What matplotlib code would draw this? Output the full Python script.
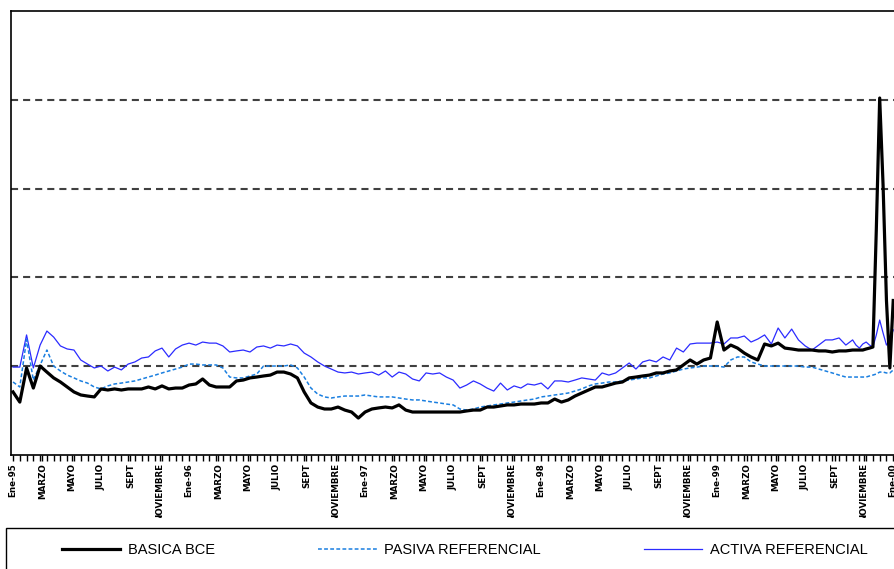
import numpy as np
import matplotlib
matplotlib.use('Agg')
import matplotlib.pyplot as plt
from matplotlib.patches import Rectangle
from matplotlib.transforms import Bbox

# semanas: cada 2 semanas desde Ene-95 y semanal al final (pico de 1999)
semanas = list(range(0, 250, 2)) + list(range(249, 261))

basica = [35.5, 29.8, 49.0, 37.7, 50.1, 46.7, 43.4, 41.1, 38.3, 35.5,
          33.8, 33.2, 32.7, 37.2, 36.6, 37.2, 36.6, 37.2, 37.2, 37.2,
          38.3, 37.2, 38.9, 37.2, 37.7, 37.7, 39.4, 40.0, 42.8, 39.4,
          38.3, 38.3, 38.3, 41.7, 42.2, 43.4, 43.9, 44.5, 45.0, 46.7,
          46.7, 45.6, 43.4, 35.5, 29.3, 27.0, 25.9, 25.9, 27.0, 25.3,
          24.2, 20.8, 24.2, 25.9, 26.5, 27.0, 26.5, 28.2, 25.3, 24.2,
          24.2, 24.2, 24.2, 24.2, 24.2, 24.2, 24.2, 24.8, 25.3, 25.3,
          27.0, 27.0, 27.6, 28.2, 28.2, 28.7, 28.7, 28.7, 29.3, 29.3,
          31.5, 29.8, 31.0, 33.2, 34.9, 36.6, 38.3, 38.3, 39.4, 40.5,
          41.1, 43.4, 43.9, 44.5, 45.0, 46.2, 46.2, 47.3, 47.9, 50.7,
          53.5, 51.2, 53.5, 54.6, 74.9, 59.1, 61.9, 60.2, 57.4, 55.2,
          53.5, 62.5, 61.4, 63.0, 60.2, 59.7, 59.1, 59.1, 59.1, 58.6,
          58.6, 58.0, 58.6, 58.6, 59.1,
          59.1, 59.1, 59.1, 59.7, 60.2, 60.8, 126.7, 201.0, 152.0, 87.0,
          49.0, 87.0]

pasiva = [41.1, 38.3, 65.0, 42.2, 50.7, 59.1, 50.1, 47.3, 45.0, 43.4,
          41.7, 40.5, 38.3, 37.2, 38.9, 40.0, 40.5, 41.1, 41.7, 42.8,
          43.9, 45.0, 46.2, 47.3, 48.4, 49.5, 51.2, 51.2, 50.7, 50.7,
          50.7, 49.0, 43.9, 43.4, 43.4, 44.5, 45.6, 50.1, 50.1, 50.1,
          50.1, 50.7, 49.0, 43.9, 37.7, 34.3, 32.7, 32.1, 32.7, 33.2,
          33.2, 33.2, 33.8, 33.2, 32.7, 32.7, 32.7, 32.1, 31.5, 31.0,
          31.0, 30.4, 29.8, 29.3, 28.7, 28.2, 25.9, 25.3, 25.9, 27.0,
          27.6, 28.2, 28.7, 29.3, 29.8, 30.4, 31.0, 31.5, 32.7, 33.2,
          33.8, 34.3, 34.9, 36.0, 37.2, 38.9, 40.0, 40.5, 41.1, 41.1,
          41.7, 42.2, 42.8, 43.4, 43.4, 44.5, 45.6, 46.2, 47.3, 48.4,
          49.0, 49.5, 50.1, 50.1, 50.1, 49.5, 53.5, 55.2, 55.2, 52.4,
          51.2, 50.1, 50.1, 50.1, 50.1, 50.1, 50.1, 49.5, 49.5, 48.4,
          47.3, 46.2, 45.0, 43.9, 43.9,
          43.9, 43.9, 43.9, 43.9, 44.5, 45.0, 45.6, 46.7, 46.7, 46.2,
          46.2, 47.9]

activa = [49.5, 49.5, 67.6, 49.0, 61.9, 69.8, 66.4, 61.4, 59.7, 59.1,
          53.5, 51.2, 49.0, 50.1, 47.3, 49.5, 47.9, 51.2, 52.4, 54.6,
          55.2, 58.6, 60.2, 55.2, 59.7, 61.9, 63.0, 61.9, 63.6, 63.0,
          63.0, 61.4, 58.0, 58.6, 59.1, 58.0, 60.8, 61.4, 60.2, 61.9,
          61.4, 62.5, 61.4, 57.4, 55.2, 52.4, 50.1, 48.4, 46.7, 46.2,
          46.7, 45.6, 46.2, 46.7, 45.0, 47.3, 43.9, 46.7, 45.6, 42.8,
          41.7, 46.2, 45.6, 46.2, 43.9, 42.2, 37.7, 39.4, 41.7, 40.0,
          37.7, 36.0, 40.5, 36.6, 38.9, 37.7, 40.0, 39.4, 40.5, 37.2,
          41.7, 41.7, 41.1, 42.2, 43.4, 42.8, 42.2, 46.2, 45.0, 46.2,
          49.0, 51.8, 48.4, 52.4, 53.5, 52.4, 55.2, 53.5, 60.2, 58.0,
          62.5, 63.0, 63.0, 63.0, 63.6, 62.5, 65.9, 65.9, 67.0, 63.6,
          65.3, 67.6, 62.5, 71.5, 65.9, 70.9, 64.8, 61.4, 59.1, 61.9,
          64.8, 64.8, 65.9, 61.9, 64.8,
          61.9, 60.2, 62.5, 63.6, 61.9, 60.8, 67.6, 76.0, 68.7, 61.9,
          64.8, 70.4]

meses = ['MARZO', 'MAYO', 'JULIO', 'SEPT', 'NOVIEMBRE']
anios = ['95', '96', '97', '98', '99', '00']

etiquetas = []
for a in anios[:-1]:
    etiquetas += ['Ene-' + a] + meses
etiquetas.append('Ene-' + anios[-1])

fig = plt.figure(figsize=(8.94, 5.69), dpi=100)
ax = fig.add_axes([11 / 894, 114 / 569, 889 / 894, 444 / 569])

ax.plot(semanas, activa, color='#2B2BFF', lw=0.9, label='ACTIVA REFERENCIAL', zorder=3)
ax.plot(semanas, pasiva, color='#1A7FE0', lw=1.1, ls=(0, (2.5, 1.5)),
        label='PASIVA REFERENCIAL', zorder=4)
ax.plot(semanas, basica, color='black', lw=2.3, label='BASICA BCE', zorder=5)

ax.set_xlim(-0.6, 262)
ax.set_ylim(0, 250)

# lineas de division horizontales
ax.set_yticks([50, 100, 150, 200])
ax.set_yticklabels([])
ax.tick_params(axis='y', length=0)
ax.yaxis.grid(True, color='#404040', lw=1.5, ls=(0, (3.4, 2.4)))
ax.set_axisbelow(True)

pos = [i * 52 / 6 for i in range(len(etiquetas))]
ax.set_xticks(pos)
ax.set_xticklabels(etiquetas, rotation=90, fontsize=6.3, fontweight='bold',
                   va='top', ha='center')
ax.set_xticks(np.arange(0, 262, 2), minor=True)
ax.tick_params(axis='x', which='both', direction='out', length=4, width=1, pad=2)

caja = Bbox.from_extents(0, 569 - 518, 894, 569 - 456)
for t in ax.get_xticklabels():
    t.set_clip_on(True)
    t.set_clip_box(caja)

for s in ax.spines.values():
    s.set_linewidth(1.2)
ax.spines['right'].set_visible(False)

# recuadro de la leyenda
fig.patches.append(Rectangle((6 / 894, -0.1), 1.0, (569 - 528) / 569 + 0.1,
                             transform=fig.transFigure, fill=False,
                             edgecolor='black', lw=1.0))

h, l = ax.get_legend_handles_labels()
orden = [2, 1, 0]
fig.legend([h[i] for i in orden], [l[i] for i in orden], ncol=3,
           loc='center left', bbox_to_anchor=(62 / 894, 19 / 569),
           frameon=False, borderpad=0, borderaxespad=0,
           handlelength=4.0, handletextpad=0.5, columnspacing=7.1,
           prop={'family': ['Liberation Sans Narrow', 'Liberation Sans', 'DejaVu Sans'], 'size': 10.5})

fig.savefig('out.png', dpi=100)
